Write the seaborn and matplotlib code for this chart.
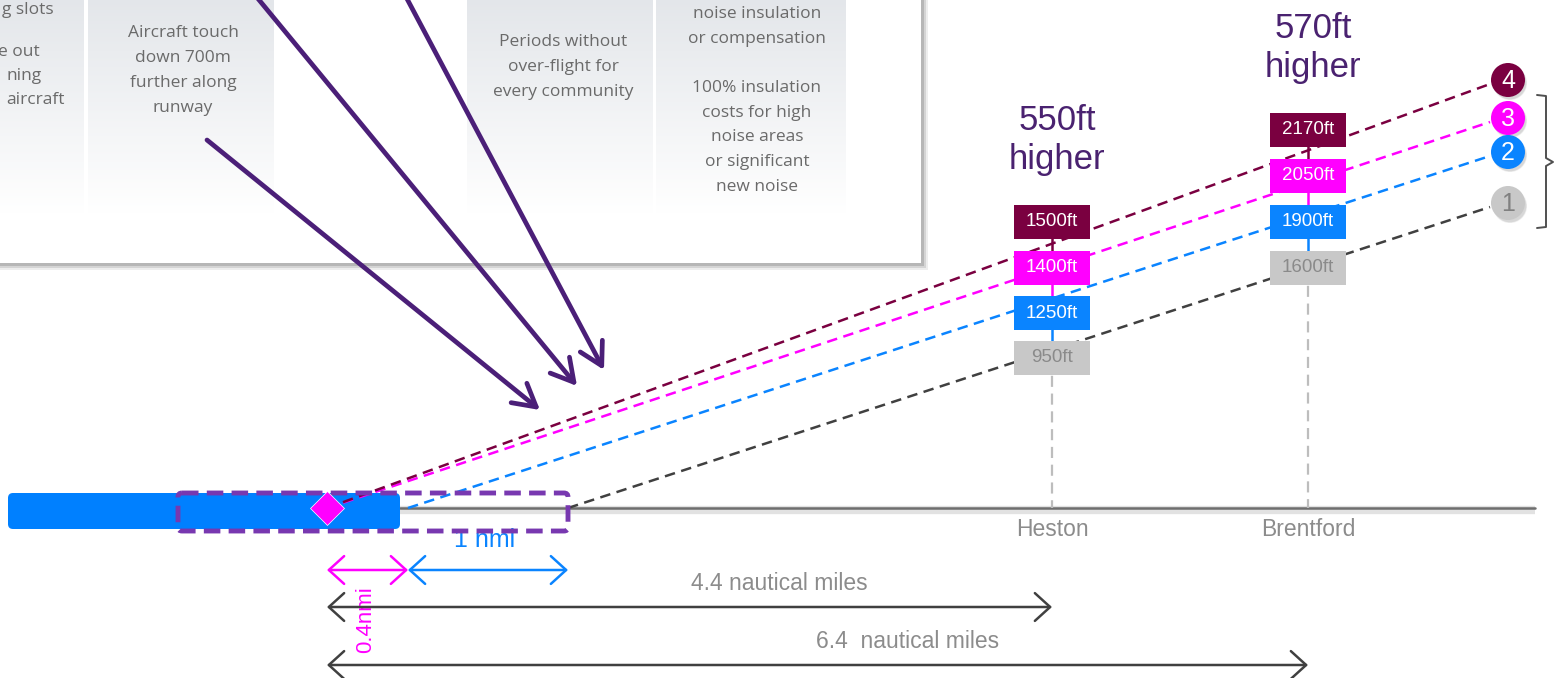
import matplotlib.pyplot as plt
import numpy as np
import pandas as pd
import seaborn as sns
from matplotlib.patches import Circle, FancyBboxPatch, Rectangle

# --- data ---
routes = ["1", "2", "3", "4"]
heston_ft = [950, 1250, 1400, 1500]
brentford_ft = [1600, 1900, 2050, 2170]
route_start_nmi = [1.4, 0.4, 0.0, 0.0]
towns = ["Heston", "Brentford"]
town_nmi = [4.4, 6.4]
gain_labels = ["550ft\nhigher", "570ft\nhigher"]
shift_labels = ["0.4nmi", "1 nmi"]
shift_nmi = [0.4, 1.0]
distance_labels = ["4.4 nautical miles", "6.4  nautical miles"]

box_colors = ["#C8C8C8", "#0A84FF", "#FF00FF", "#7A0040"]
line_colors = ["#404040", "#0A84FF", "#FF00FF", "#7A0040"]
box_text = ["#8A8A8A", "white", "white", "white"]
purple = "#4B1F78"
grey_txt = "#8C8C8C"

# schematic distance scale (nmi -> px), the drawing is not to scale
scale_nmi = [0.0, 0.4, 1.4, 4.4, 6.4, 7.7]
scale_px = [327, 408, 568, 1052, 1308, 1490]


def xpos(nmi):
    return np.interp(nmi, scale_nmi, scale_px)


ground_y = 508
circle_y = [203, 152, 118, 80]
slot_y = {"Heston": [358, 313, 268, 222], "Brentford": [268, 222, 176, 130]}

sns.set_theme(style="white")
plt.rcParams["font.family"] = ["Liberation Sans", "DejaVu Sans"]

fig = plt.figure(figsize=(15.6, 6.78), dpi=100)
ax = fig.add_axes([0, 0, 1, 1])

# --- inset panel (top-left) ---
for off, a in [(7, 0.15), (5, 0.25), (3, 0.4)]:
    ax.add_patch(Rectangle((-10, -10), 931 + off, 273 + off, facecolor="#8A8A8A", alpha=a,
                           edgecolor="none", zorder=1))
ax.add_patch(Rectangle((-10, -10), 931, 273, facecolor="white", edgecolor="none", zorder=1.1))
grad = np.ones((100, 1, 4))
grad[..., :3] = np.array([0.89, 0.90, 0.915])
grad[:, 0, 3] = np.linspace(1, 0, 100)
for x0, x1 in [(-10, 84), (88, 274), (467, 653), (656, 846)]:
    ax.imshow(grad, extent=(x0, x1, 215, -10), aspect="auto", zorder=1.2, interpolation="bilinear")

panel_font = dict(family=["Open Sans", "DejaVu Sans"], fontsize=12.5, color="#6A6A6A", zorder=1.5)
ax.text(2, 10, "g slots", ha="left", va="center", **panel_font)
for txt, x, y in [("e out", 40, 52), ("ning", 42, 76), ("aircraft", 65, 100)]:
    ax.text(x, y, txt, ha="right", va="center", **panel_font)
for txt, y in [("Aircraft touch", 33), ("down 700m", 58), ("further along", 83), ("runway", 108)]:
    ax.text(183, y, txt, ha="center", va="center", **panel_font)
for txt, y in [("Periods without", 42), ("over-flight for", 67), ("every community", 92)]:
    ax.text(563, y, txt, ha="center", va="center", **panel_font)
for txt, y in [("noise insulation", 14), ("or compensation", 39), ("100% insulation", 88),
               ("costs for high", 113), ("noise areas", 137), ("or significant", 162), ("new noise", 187)]:
    ax.text(757, y, txt, ha="center", va="center", **panel_font)

# purple pointer arrows
for start, end in [((207, 140), (540, 410)), ((255, -5), (577, 386)), ((405, -5), (604, 370))]:
    ax.annotate("", xy=end, xytext=start, zorder=3,
                arrowprops=dict(arrowstyle="->,head_length=0.8,head_width=0.45", color=purple,
                                lw=3.4, mutation_scale=20, shrinkA=0, shrinkB=0))

# --- ground line and runway ---
ax.plot([400, 1535], [ground_y + 2, ground_y + 2], color="#E2E2E2", lw=6, zorder=1.5, solid_capstyle="butt")
ax.plot([400, 1535], [ground_y, ground_y], color="#6E6E6E", lw=1.8, zorder=2)
ax.add_patch(FancyBboxPatch((12, 497), 386, 30, boxstyle="round,pad=0,rounding_size=5",
                            facecolor="#D0D0D0", edgecolor="none", zorder=2, alpha=0.6))
ax.add_patch(FancyBboxPatch((8, 493), 392, 36, boxstyle="round,pad=0,rounding_size=5",
                            facecolor="#0080FF", edgecolor="none", zorder=2.1))
ax.add_patch(FancyBboxPatch((178, 493), 390, 38, boxstyle="round,pad=0,rounding_size=4",
                            facecolor="none", edgecolor="#7838B0", lw=3.5, linestyle=(0, (3.4, 1.7)),
                            zorder=4))

# town verticals and names
for town, nmi in zip(towns, town_nmi):
    x = xpos(nmi)
    top = slot_y[town][0]
    ax.plot([x, x], [top, ground_y], color="#BDBDBD", lw=1.6, linestyle=(0, (5, 3)), zorder=2)
    ax.text(x, 530, town, ha="center", va="center", fontsize=16.5, color=grey_txt)

# --- glide paths ---
rows = []
for r, s, cy in zip(routes, route_start_nmi, circle_y):
    rows.append({"route": r, "x": xpos(s), "y": ground_y})
    rows.append({"route": r, "x": xpos(7.7), "y": cy + 4})
paths = pd.DataFrame(rows)
sns.lineplot(data=paths, x="x", y="y", hue="route", palette=dict(zip(routes, line_colors)),
             style="route", dashes={r: (4.2, 2.6) for r in routes}, sort=False, lw=1.8,
             legend=False, ax=ax, zorder=3)

ax.plot([xpos(0)], [ground_y], marker="D", markersize=17, color="#FF00FF",
        markeredgecolor="white", markeredgewidth=0.5, zorder=5)

# altitude boxes
for town, values in [("Heston", heston_ft), ("Brentford", brentford_ft)]:
    x = xpos(town_nmi[towns.index(town)])
    ys = slot_y[town]
    for i in range(1, len(values)):
        ax.plot([x, x], [ys[i], ys[i - 1]], color=box_colors[i], lw=1.8, zorder=3.5)
    for i, v in enumerate(values):
        ax.add_patch(Rectangle((x - 38, ys[i] - 17), 76, 34, facecolor=box_colors[i],
                               edgecolor="none", zorder=5.5))
        ax.text(x, ys[i], f"{v}ft", ha="center", va="center", fontsize=13.5, color=box_text[i],
                zorder=6)

# height gain labels
for town, label, y in zip(towns, gain_labels, [140, 48]):
    ax.text(xpos(town_nmi[towns.index(town)]) + 5, y, label, ha="center", va="center",
            fontsize=25, color="#4A2270", linespacing=1.25)

# route badges and bracket
for r, cy, fc, tc in zip(routes, circle_y, box_colors, box_text):
    ax.add_patch(Circle((1510, cy + 3), 17, facecolor="#B0B0B0", alpha=0.5, zorder=6))
    ax.add_patch(Circle((1508, cy), 17, facecolor=fc, edgecolor="none", zorder=6.5))
    ax.text(1508, cy + 1, r, ha="center", va="center", fontsize=18,
            color=tc if r != "1" else "#808080", zorder=7)
ax.plot([1537, 1546, 1546, 1553, 1546, 1546, 1537],
        [95, 96, 158, 162, 166, 227, 228], color="#505050", lw=1.4, zorder=6)

# --- distance arrows ---
arrow = "<->,head_length=0.55,head_width=0.5"
ax.annotate("", xy=(xpos(0), 570), xytext=(xpos(shift_nmi[0]), 570),
            arrowprops=dict(arrowstyle=arrow, color="#FF00FF", lw=1.8, mutation_scale=20,
                            shrinkA=0, shrinkB=0), zorder=4)
ax.annotate("", xy=(xpos(shift_nmi[0]), 570), xytext=(xpos(shift_nmi[0] + shift_nmi[1]), 570),
            arrowprops=dict(arrowstyle=arrow, color="#0A84FF", lw=1.8, mutation_scale=20,
                            shrinkA=0, shrinkB=0), zorder=4)
ax.text(366, 620, shift_labels[0], rotation=90, ha="center", va="center", fontsize=16, color="#FF00FF")
ax.text(485, 540, shift_labels[1], ha="center", va="center", fontsize=18, color="#0A84FF", zorder=3.8)

for nmi, label, y in zip(town_nmi, distance_labels, [607, 665]):
    ax.annotate("", xy=(xpos(0), y), xytext=(xpos(nmi), y),
                arrowprops=dict(arrowstyle=arrow, color="#404040", lw=1.8, mutation_scale=20,
                                shrinkA=0, shrinkB=0))
    ax.text((xpos(0) + xpos(nmi)) / 2 + 90, y - 24, label, ha="center", va="center",
            fontsize=16.5, color=grey_txt)

ax.set_xlim(0, 1560)
ax.set_ylim(678, 0)
ax.axis("off")
fig.savefig("out.png", dpi=100)
plt.close(fig)
